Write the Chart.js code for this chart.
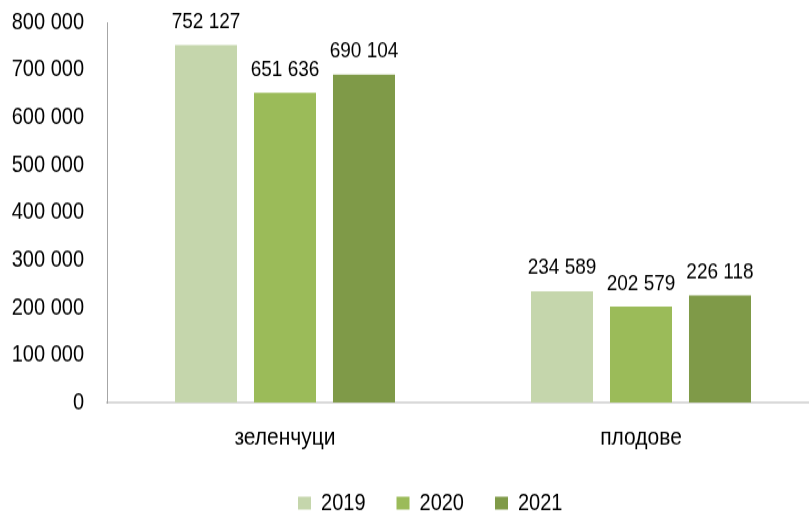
<!DOCTYPE html>
<html>
<head>
<meta charset="utf-8">
<script src="https://cdn.jsdelivr.net/npm/chart.js@4/dist/chart.umd.min.js"></script>
<style>
  html, body { margin: 0; padding: 0; overflow: hidden; background: #fff; width: 809px; height: 513px; }
  #wrap { position: absolute; left: 0; top: 0; transform: scaleY(1.17); transform-origin: 0 0; }
</style>
</head>
<body>
<div id="wrap"><canvas id="c" width="860" height="450"></canvas></div>
<script>
const categories = ['зеленчуци', 'плодове'];
const seriesNames = ['2019', '2020', '2021'];
const values2019 = [752127, 234589];
const values2020 = [651636, 202579];
const values2021 = [690104, 226118];
const yTicks = [0, 100000, 200000, 300000, 400000, 500000, 600000, 700000, 800000];
const colors = ['#c5d6ac', '#9bbb59', '#7f9a48'];

const fmt = v => String(v).replace(/\B(?=(\d{3})+(?!\d))/g, ' ');
const FONT = "'Liberation Sans', Arial, sans-serif";

const labelPlugin = {
  id: 'valueLabels',
  afterLayout(chart) {
    if (chart.legend) { chart.legend.left += 41.5; }
  },
  afterDatasetsDraw(chart) {
    const ctx = chart.ctx;
    ctx.save();
    ctx.font = '19px ' + FONT;
    ctx.fillStyle = '#000';
    ctx.textAlign = 'center';
    ctx.textBaseline = 'alphabetic';
    chart.data.datasets.forEach((ds, i) => {
      const meta = chart.getDatasetMeta(i);
      meta.data.forEach((bar, j) => {
        ctx.fillText(fmt(ds.data[j]), bar.x, bar.y - 14.5);
      });
    });
    ctx.restore();
  }
};

new Chart(document.getElementById('c'), {
  type: 'bar',
  data: {
    labels: categories,
    datasets: [
      { label: seriesNames[0], data: values2019, backgroundColor: colors[0] },
      { label: seriesNames[1], data: values2020, backgroundColor: colors[1] },
      { label: seriesNames[2], data: values2021, backgroundColor: colors[2] }
    ]
  },
  options: {
    responsive: false,
    animation: false,
    devicePixelRatio: 1,
    layout: { padding: { left: 0, right: 41, top: 19, bottom: 0 } },
    datasets: { bar: { categoryPercentage: 0.6657, barPercentage: 0.785 } },
    scales: {
      x: {
        afterFit(scale) { scale.height = 44.6; },
        grid: { display: false, drawTicks: false },
        border: { color: '#d9d9d9', width: 2 },
        ticks: { color: '#000', font: { family: FONT, size: 21 }, padding: 17 }
      },
      y: {
        min: 0, max: 800000,
        afterFit(scale) { scale.width = 107; },
        afterBuildTicks(scale) { scale.ticks = yTicks.map(v => ({ value: v })); },
        grid: { display: true, drawOnChartArea: false, drawTicks: true, tickLength: 23, color: 'rgba(0,0,0,0)' },
        border: { color: '#a6a6a6', width: 1 },
        ticks: { color: '#000', font: { family: FONT, size: 20 }, padding: 0, callback: v => fmt(v) }
      }
    },
    plugins: {
      tooltip: { enabled: false },
      legend: {
        position: 'bottom',
        labels: { color: '#000', font: { family: FONT, size: 20 }, boxWidth: 13, boxHeight: 11, padding: 31 }
      }
    }
  },
  plugins: [labelPlugin]
});
</script>
</body>
</html>
